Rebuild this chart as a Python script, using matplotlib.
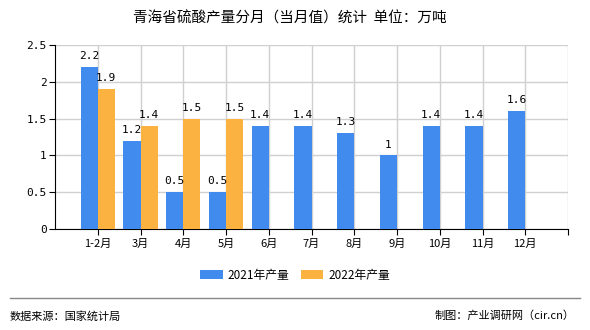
import matplotlib
matplotlib.use("Agg")
import matplotlib.pyplot as plt
import numpy as np

plt.rcParams['font.family'] = ['Noto Sans CJK SC', 'DejaVu Sans']

categories = ['1-2月', '3月', '4月', '5月', '6月', '7月', '8月', '9月', '10月', '11月', '12月']
values_2021 = [2.2, 1.2, 0.5, 0.5, 1.4, 1.4, 1.3, 1, 1.4, 1.4, 1.6]
values_2022 = [1.9, 1.4, 1.5, 1.5]
yticks = [0, 0.5, 1, 1.5, 2, 2.5]
ytick_labels = ['0', '0.5', '1', '1.5', '2', '2.5']

blue = '#418AEE'
orange = '#FBB240'

fig = plt.figure(figsize=(5.9, 3.3), dpi=100)
ax = fig.add_axes([55/590, 1-229/330, (568-55)/590, (229-45)/330])

x = np.arange(len(categories))
w = 0.40
ax.bar(x - w/2, values_2021, width=w, color=blue, label='2021年产量', zorder=3)
ax.bar(x[:len(values_2022)] + w/2, values_2022, width=w, color=orange, label='2022年产量', zorder=3)

for xi, v in zip(x, values_2021):
    ax.text(xi - w/2, v + 0.08, f'{v:g}', ha='center', va='bottom', fontsize=8, family='DejaVu Sans Mono', zorder=4)
for xi, v in zip(x, values_2022):
    ax.text(xi + w/2, v + 0.08, f'{v:g}', ha='center', va='bottom', fontsize=8, family='DejaVu Sans Mono', zorder=4)

ax.set_xlim(-1, len(categories))
ax.set_ylim(0, 2.5)
ax.set_yticks(yticks)
ax.set_yticklabels(ytick_labels, family='DejaVu Sans Mono', fontsize=8)
ax.set_xticks(list(x) + [len(categories)])
ax.set_xticklabels(categories + [''], fontsize=8)
ax.grid(True, color='#D0D0D0', linewidth=1, zorder=0)
for s in ['top', 'right']:
    ax.spines[s].set_visible(False)
ax.spines['left'].set_color('black')
ax.spines['bottom'].set_color('black')
ax.tick_params(axis='both', length=4, color='black', pad=2)
ax.tick_params(axis='x', pad=3)

fig.text(0.5 - 5/590, 1-18/330, '青海省硫酸产量分月（当月值）统计  单位：万吨', ha='center', va='center', fontsize=10.5)

handles, labels = ax.get_legend_handles_labels()
fig.legend(handles, labels, loc='center', bbox_to_anchor=(0.5, 1-275/330), ncol=2, frameon=False,
           fontsize=8.5, handlelength=1.9, handleheight=0.8, handletextpad=0.4, columnspacing=1.0)

fig.add_artist(plt.Line2D([10/590, 580/590], [1-298/330, 1-298/330], color='#888888', linewidth=1))
fig.text(10/590, 1-316/330, '数据来源：国家统计局', ha='left', va='center', fontsize=8)
fig.text(575/590, 1-316/330, '制图：产业调研网（cir.cn）', ha='right', va='center', fontsize=8)

fig.savefig('out.png', dpi=100)
